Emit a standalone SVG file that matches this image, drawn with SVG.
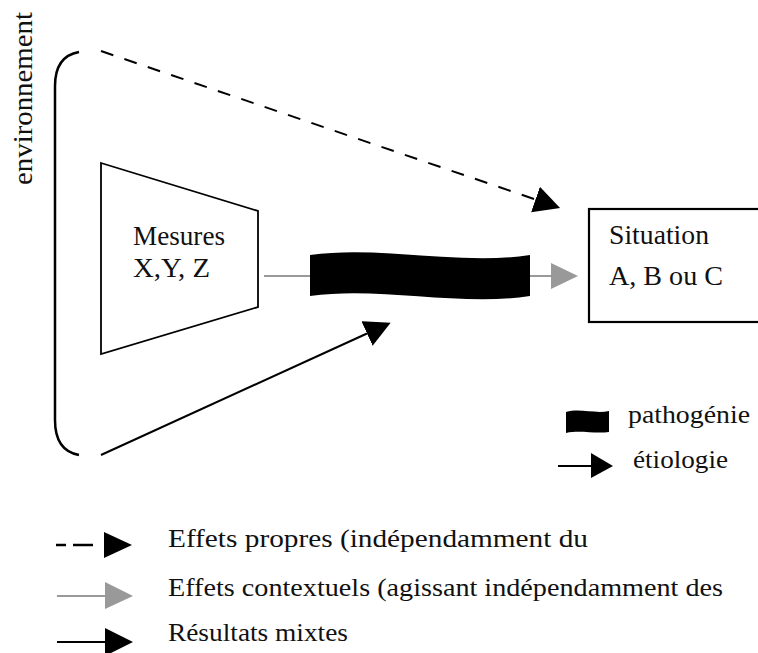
<svg xmlns="http://www.w3.org/2000/svg" width="758" height="653" viewBox="0 0 758 653">
<style>
text{font-family:'Liberation Serif','Times New Roman',Times,serif;fill:#111}
.lbl{font-size:27px}
.leg{font-size:25px}
.k{stroke:#000;fill:none}
</style>
<defs>
<marker id="hb" markerUnits="userSpaceOnUse" markerWidth="30" markerHeight="30" refX="0" refY="13.5" orient="auto"><path d="M0,0 L26,13.5 L0,27 z" fill="#000"/></marker>
<marker id="hg" markerUnits="userSpaceOnUse" markerWidth="30" markerHeight="30" refX="0" refY="13" orient="auto"><path d="M0,0 L27,13 L0,26 z" fill="#999"/></marker>
</defs>
<rect width="758" height="653" fill="#fff"/>
<g id="environnement">
<path class="k" stroke-width="2.5" d="M79,52 C62,55 55,68 55,86 L55,420 C55,440 62,452 79,455"/>
<text class="lbl" transform="translate(32,185) rotate(-90)" textLength="173" lengthAdjust="spacingAndGlyphs">environnement</text>
</g>
<g id="mesures">
<polygon class="k" stroke-width="1.8" points="101,163 258,211 258,307 101,354" fill="#fff"/>
<text class="lbl" x="133" y="245" textLength="92" lengthAdjust="spacingAndGlyphs">Mesures</text>
<text class="lbl" x="133" y="277" textLength="77" lengthAdjust="spacingAndGlyphs">X,Y, Z</text>
</g>
<g id="situation">
<rect class="k" stroke-width="2.2" x="589" y="209" width="190" height="113" fill="#fff"/>
<text class="lbl" x="609" y="244" textLength="100" lengthAdjust="spacingAndGlyphs">Situation</text>
<text class="lbl" x="609" y="285" textLength="114" lengthAdjust="spacingAndGlyphs">A, B ou C</text>
</g>
<g id="connectors">
<line x1="101" y1="51" x2="535.5" y2="199.5" stroke="#000" stroke-width="2" stroke-dasharray="13 11.7" marker-end="url(#hb)"/>
<line x1="101" y1="455" x2="367" y2="333.5" stroke="#000" stroke-width="2" marker-end="url(#hb)"/>
<line x1="264" y1="276" x2="551" y2="276" stroke="#999" stroke-width="2" marker-end="url(#hg)"/>
<path id="pathogenie-band" fill="#000" d="M310,255 C380,245 460,266 530,255 L530,296 C460,307 380,286 310,296 z"/>
</g>
<g id="legende">
<path fill="#000" d="M566,412 C580,408 595,414 609,411 L609,432 C595,434 580,430 566,433 z"/>
<text class="leg" x="628" y="423" textLength="122" lengthAdjust="spacingAndGlyphs">pathogénie</text>
<line x1="558" y1="466" x2="592" y2="466" stroke="#000" stroke-width="2"/>
<polygon points="591,453 613,466 591,478" fill="#000"/>
<text class="leg" x="633" y="468" textLength="95" lengthAdjust="spacingAndGlyphs">étiologie</text>
<line x1="56" y1="545" x2="66" y2="545" stroke="#000" stroke-width="2.5"/>
<line x1="73" y1="545" x2="93" y2="545" stroke="#000" stroke-width="2.5"/>
<polygon points="104,532 132,545 104,558" fill="#000"/>
<text class="leg" x="168" y="547" textLength="420" lengthAdjust="spacingAndGlyphs">Effets propres (indépendamment du</text>
<line x1="57" y1="596" x2="106" y2="596" stroke="#999" stroke-width="2"/>
<polygon points="105,582 133,596 105,609" fill="#999"/>
<text class="leg" x="168" y="596" textLength="555" lengthAdjust="spacingAndGlyphs">Effets contextuels (agissant indépendamment des</text>
<line x1="57" y1="642" x2="106" y2="642" stroke="#000" stroke-width="2"/>
<polygon points="105,628 133,642 105,656" fill="#000"/>
<text class="leg" x="168" y="641" textLength="180" lengthAdjust="spacingAndGlyphs">Résultats mixtes</text>
</g>
</svg>
